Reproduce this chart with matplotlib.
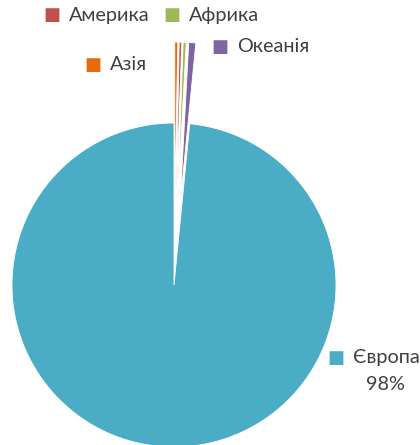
import matplotlib
matplotlib.use("Agg")
import matplotlib.pyplot as plt

# data (share of total, %), clockwise from 12 o'clock
regions = ["Азія", "Америка", "Африка", "Океанія", "Європа"]
shares = [0.3, 0.25, 0.3, 0.7, 98.45]
colors = ["#E46C0A", "#C0504D", "#9BBB59", "#8064A2", "#4BACC6"]
explode = [0.5, 0.5, 0.5, 0.5, 0.0]

# label anchors in figure pixels (marker centre x, centre y)
label_pos = {
    "Азія": (93, 65),
    "Америка": (52, 15),
    "Африка": (172, 15),
    "Океанія": (220, 47),
    "Європа": (336, 358),
}

W, H = 420, 445
fig = plt.figure(figsize=(W / 100, H / 100), dpi=100)
ax = fig.add_axes([0, 0, 1, 1])

cx, cy, r = 174, 285, 162
ax.pie(shares, colors=colors, explode=explode, startangle=90,
       counterclock=False, radius=1,
       wedgeprops=dict(edgecolor="white", linewidth=0.6))
ax.set_xlim(-cx / r, (W - cx) / r)
ax.set_ylim(-(H - cy) / r, cy / r)
ax.set_aspect("auto")
ax.axis("off")

font = "Lato"
fs = 14.3
for name, c in zip(regions, colors):
    px, py = label_pos[name]
    fx, fy = px / W, 1 - py / H
    fig.text(fx, fy, "■", color=c, fontsize=13, ha="center", va="center",
             family="DejaVu Sans")
    fig.text(fx + 17 / W, fy, name, color="#404040", fontsize=fs,
             ha="left", va="center", family=font)
    if name == "Європа":
        pct = shares[regions.index(name)]
        fig.text(385 / W, 1 - 384 / H, f"{pct:.0f}%", color="#404040",
                 fontsize=fs, ha="center", va="center", family=font)

fig.savefig("out.png", dpi=100)
